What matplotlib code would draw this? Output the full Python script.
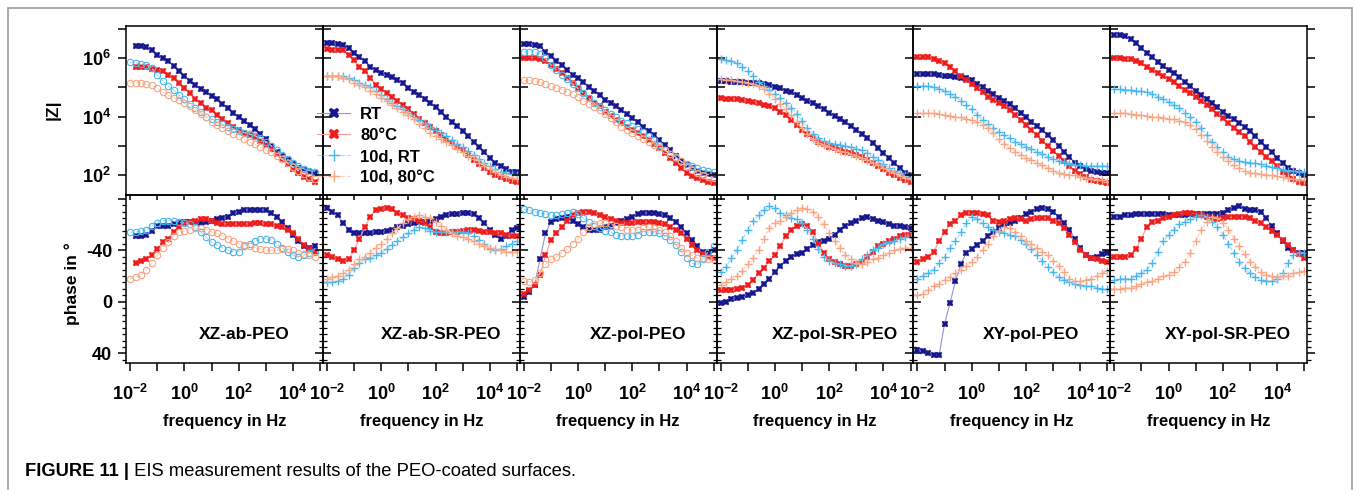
import numpy as np
import matplotlib
matplotlib.use("Agg")
import matplotlib.pyplot as plt
from matplotlib.lines import Line2D
from matplotlib.patches import Rectangle
from matplotlib.ticker import FixedLocator, FuncFormatter, MultipleLocator, NullLocator
from matplotlib import font_manager

# log10 of the measuring frequency in Hz
log_freq = [-2.0, -1.8, -1.6, -1.4, -1.2, -1.0, -0.8, -0.6, -0.4, -0.2,
            0.0, 0.2, 0.4, 0.6, 0.8, 1.0, 1.2, 1.4, 1.6, 1.8,
            2.0, 2.2, 2.4, 2.6, 2.8, 3.0, 3.2, 3.4, 3.6, 3.8,
            4.0, 4.2, 4.4, 4.6, 4.8, 5.0]

panel_names = ["XZ-ab-PEO", "XZ-ab-SR-PEO", "XZ-pol-PEO",
               "XZ-pol-SR-PEO", "XY-pol-PEO", "XY-pol-SR-PEO"]
series_names = ["RT", "80°C", "10d, RT", "10d, 80°C"]

# ---- XZ-ab-PEO : log10 |Z| and phase ----
z_xz_ab_rt = [None, 6.41, 6.41, 6.38, 6.29, 6.12, 6.00, 5.91, 5.74, 5.58, 5.40, 5.23, 5.09, 4.96, 4.84, 4.72, 4.59, 4.44, 4.28, 4.12, 4.00, 3.85, 3.70, 3.57, 3.41, 3.22, 3.00, 2.80, 2.65, 2.51, 2.37, 2.25, 2.17, 2.11, 2.06, None]
z_xz_ab_80 = [None, 5.72, 5.72, 5.70, 5.64, 5.60, 5.55, 5.43, 5.32, 5.15, 4.97, 4.80, 4.60, 4.46, 4.31, 4.21, 4.06, 3.91, 3.77, 3.66, 3.54, 3.45, 3.37, 3.29, 3.18, 3.03, 2.88, 2.71, 2.54, 2.38, 2.21, 2.06, 1.94, 1.85, 1.77, None]
z_xz_ab_10rt = [5.86, 5.84, 5.82, 5.78, 5.66, 5.43, 5.23, 5.05, 4.92, 4.75, 4.60, 4.44, 4.29, 4.15, 4.00, 3.91, 3.83, 3.74, 3.66, 3.58, 3.51, 3.45, 3.40, 3.34, 3.26, 3.14, 3.00, 2.84, 2.69, 2.54, 2.40, 2.29, 2.21, 2.15, 2.11, None]
z_xz_ab_1080 = [5.17, 5.17, 5.17, 5.11, 5.07, 4.97, 4.86, 4.75, 4.65, 4.57, 4.46, 4.35, 4.21, 4.09, 3.97, 3.83, 3.72, 3.60, 3.49, 3.40, 3.32, 3.22, 3.14, 3.05, 2.95, 2.86, 2.77, 2.65, 2.54, 2.40, 2.26, 2.15, 2.04, 1.94, 1.85, None]
ph_xz_ab_rt = [None, -51, -51, -52, -55, -59, -59, -59, -60, -61, -62, -62, -62, -61, -62, -63, -64, -65, -66, -69, -70, -71, -71, -71, -71, -71, -69, -66, -62, -57, -52, -47, -43, -42, -43, None]
ph_xz_ab_80 = [None, -30, -32, -33, -36, -41, -46, -49, -54, -58, -61, -62, -63, -64, -64, -63, -61, -60, -60, -60, -60, -60, -60, -61, -61, -60, -60, -59, -58, -56, -53, -49, -44, -41, -39, None]
ph_xz_ab_10rt = [-54, -54, -55, -56, -59, -61, -63, -63, -63, -62, -61, -60, -58, -54, -50, -46, -44, -42, -40, -39, -39, -43, -45, -47, -49, -49, -48, -45, -42, -39, -36, -35, -36, -38, -39, None]
ph_xz_ab_1080 = [-18, -19, -21, -25, -30, -36, -42, -46, -51, -54, -55, -56, -57, -57, -56, -54, -53, -51, -49, -47, -45, -44, -43, -42, -41, -40, -40, -40, -41, -41, -40, -38, -37, -36, -35, None]

# ---- XZ-ab-SR-PEO ----
z_xz_absr_rt = [6.52, 6.51, 6.50, 6.45, 6.35, 6.18, 6.04, 5.92, 5.72, 5.60, 5.51, 5.43, 5.35, 5.26, 5.15, 4.97, 4.86, 4.75, 4.61, 4.46, 4.32, 4.17, 4.00, 3.83, 3.68, 3.49, 3.32, 3.14, 2.97, 2.77, 2.59, 2.42, 2.29, 2.19, 2.11, 2.09]
z_xz_absr_80 = [6.31, 6.30, 6.29, 6.27, 6.12, 5.95, 5.72, 5.55, 5.32, 5.09, 4.94, 4.80, 4.66, 4.54, 4.40, 4.25, 4.09, 3.93, 3.77, 3.63, 3.51, 3.37, 3.24, 3.11, 2.97, 2.84, 2.69, 2.51, 2.37, 2.23, 2.11, 2.00, 1.92, 1.85, 1.79, 1.76]
z_xz_absr_10rt = [5.40, 5.40, 5.39, 5.38, 5.33, 5.26, 5.17, 5.09, 5.00, 4.89, 4.75, 4.62, 4.48, 4.37, 4.25, 4.14, 4.00, 3.89, 3.77, 3.66, 3.54, 3.43, 3.32, 3.20, 3.06, 2.95, 2.82, 2.69, 2.54, 2.40, 2.29, 2.19, 2.11, 2.06, 2.02, 2.00]
z_xz_absr_1080 = [5.38, 5.38, 5.38, 5.34, 5.28, 5.17, 5.09, 5.01, 4.89, 4.78, 4.65, 4.54, 4.40, 4.29, 4.17, 4.06, 3.91, 3.75, 3.60, 3.45, 3.34, 3.22, 3.12, 3.01, 2.88, 2.77, 2.66, 2.55, 2.42, 2.31, 2.19, 2.09, 2.00, 1.94, 1.90, 1.87]
ph_xz_absr_rt = [-73, -70, -67, -61, -56, -53, -53, -53, -53, -54, -54, -55, -56, -58, -59, -60, -61, -62, -62, -63, -64, -66, -67, -68, -68, -69, -69, -68, -65, -61, -56, -52, -49, -51, -56, -57]
ph_xz_absr_80 = [-36, -35, -33, -32, -33, -40, -49, -58, -66, -71, -72, -73, -72, -69, -67, -65, -64, -63, -61, -58, -54, -53, -53, -54, -54, -55, -56, -56, -55, -54, -54, -53, -53, -52, -51, -51]
ph_xz_absr_10rt = [-15, -15, -16, -18, -21, -26, -30, -33, -34, -36, -38, -41, -44, -47, -50, -53, -56, -58, -57, -55, -54, -54, -54, -54, -54, -54, -53, -51, -48, -45, -41, -40, -41, -43, -45, -47]
ph_xz_absr_1080 = [-18, -19, -20, -22, -25, -29, -33, -35, -38, -42, -45, -49, -53, -57, -61, -64, -66, -67, -66, -65, -62, -59, -56, -53, -51, -50, -49, -47, -45, -43, -42, -41, -40, -39, -39, -39]

# ---- XZ-pol-PEO ----
z_xz_pol_rt = [6.50, 6.50, 6.47, 6.41, 6.23, 6.08, 5.92, 5.78, 5.60, 5.43, 5.32, 5.18, 5.03, 4.89, 4.75, 4.57, 4.46, 4.35, 4.21, 4.08, 3.95, 3.81, 3.66, 3.52, 3.37, 3.20, 3.03, 2.84, 2.65, 2.49, 2.34, 2.23, 2.15, 2.08, 2.03, 2.00]
z_xz_pol_80 = [6.00, 6.00, 6.00, 5.98, 5.92, 5.78, 5.63, 5.49, 5.32, 5.15, 4.97, 4.80, 4.63, 4.48, 4.35, 4.17, 4.02, 3.89, 3.77, 3.66, 3.54, 3.43, 3.32, 3.20, 3.06, 2.92, 2.74, 2.57, 2.40, 2.23, 2.08, 1.97, 1.88, 1.81, 1.75, 1.71]
z_xz_pol_10rt = [6.23, 6.23, 6.21, 6.14, 6.00, 5.78, 5.60, 5.43, 5.28, 5.12, 4.97, 4.80, 4.63, 4.46, 4.32, 4.21, 4.08, 3.97, 3.86, 3.77, 3.68, 3.58, 3.46, 3.34, 3.20, 3.03, 2.86, 2.71, 2.57, 2.46, 2.37, 2.29, 2.22, 2.17, 2.14, 2.11]
z_xz_pol_1080 = [5.24, 5.24, 5.23, 5.19, 5.12, 5.05, 4.97, 4.92, 4.85, 4.77, 4.67, 4.55, 4.44, 4.32, 4.21, 4.08, 3.95, 3.80, 3.66, 3.54, 3.43, 3.32, 3.22, 3.13, 3.04, 2.95, 2.84, 2.72, 2.61, 2.46, 2.31, 2.17, 2.06, 1.98, 1.92, 1.89]
ph_xz_pol_rt = [-4, -8, -13, -33, -53, -62, -64, -65, -66, -63, -60, -58, -56, -56, -56, -58, -59, -61, -63, -64, -66, -68, -69, -69, -69, -68, -67, -65, -62, -58, -53, -48, -43, -39, -38, -40]
ph_xz_pol_80 = [-6, -9, -13, -21, -36, -48, -53, -58, -63, -67, -69, -70, -70, -69, -67, -66, -64, -63, -61, -61, -61, -62, -62, -62, -62, -61, -60, -58, -56, -53, -49, -44, -40, -37, -35, -34]
ph_xz_pol_10rt = [-72, -71, -70, -69, -68, -67, -67, -68, -69, -70, -68, -65, -62, -59, -57, -55, -54, -52, -51, -51, -51, -52, -54, -54, -54, -53, -51, -48, -44, -39, -34, -30, -29, -33, -39, -43]
ph_xz_pol_1080 = [-16, -15, -17, -22, -29, -33, -35, -38, -41, -45, -49, -54, -58, -60, -61, -61, -60, -59, -58, -56, -56, -56, -57, -58, -57, -56, -54, -51, -47, -42, -38, -36, -34, -34, -33, -33]

# ---- XZ-pol-SR-PEO ----
z_xz_polsr_rt = [5.23, 5.22, 5.20, 5.19, 5.18, 5.17, 5.16, 5.15, 5.12, 5.09, 5.03, 4.97, 4.89, 4.83, 4.75, 4.65, 4.55, 4.46, 4.35, 4.25, 4.14, 4.03, 3.92, 3.81, 3.68, 3.54, 3.41, 3.26, 3.11, 2.92, 2.74, 2.57, 2.40, 2.23, 2.08, 1.98]
z_xz_polsr_80 = [4.63, 4.62, 4.61, 4.60, 4.57, 4.54, 4.49, 4.46, 4.40, 4.35, 4.29, 4.17, 4.04, 3.89, 3.72, 3.54, 3.39, 3.26, 3.14, 3.05, 2.97, 2.91, 2.86, 2.80, 2.74, 2.69, 2.61, 2.51, 2.42, 2.31, 2.19, 2.08, 1.99, 1.90, 1.81, 1.74]
z_xz_polsr_10rt = [5.97, 5.95, 5.90, 5.83, 5.72, 5.55, 5.40, 5.20, 5.05, 4.92, 4.78, 4.63, 4.46, 4.29, 4.09, 3.86, 3.60, 3.41, 3.26, 3.17, 3.11, 3.06, 3.03, 3.00, 2.95, 2.90, 2.84, 2.74, 2.63, 2.51, 2.38, 2.25, 2.14, 2.06, 1.99, 1.94]
z_xz_polsr_1080 = [5.28, 5.26, 5.24, 5.22, 5.19, 5.17, 5.12, 5.05, 4.94, 4.78, 4.62, 4.44, 4.25, 4.06, 3.83, 3.60, 3.41, 3.22, 3.11, 3.02, 2.95, 2.88, 2.82, 2.77, 2.71, 2.65, 2.58, 2.51, 2.42, 2.33, 2.23, 2.14, 2.05, 1.97, 1.90, 1.85]
ph_xz_polsr_rt = [1, 0, -2, -3, -4, -5, -7, -10, -14, -18, -23, -28, -32, -35, -37, -38, -41, -44, -46, -47, -49, -52, -56, -59, -61, -63, -65, -66, -64, -63, -62, -60, -59, -59, -58, -57]
ph_xz_polsr_80 = [-9, -9, -9, -10, -11, -13, -17, -22, -26, -32, -36, -43, -51, -56, -59, -60, -59, -54, -45, -38, -33, -31, -29, -28, -28, -29, -31, -35, -39, -43, -45, -47, -49, -51, -52, -52]
ph_xz_polsr_10rt = [-23, -27, -34, -40, -48, -56, -63, -67, -71, -74, -73, -69, -67, -65, -64, -61, -56, -49, -41, -35, -32, -30, -29, -28, -28, -29, -33, -36, -40, -42, -45, -46, -47, -49, -50, -50]
ph_xz_polsr_1080 = [-13, -15, -18, -20, -24, -29, -34, -40, -49, -57, -61, -63, -66, -69, -71, -73, -72, -70, -66, -60, -53, -47, -42, -36, -33, -30, -29, -31, -33, -34, -36, -38, -40, -41, -42, -42]

# ---- XY-pol-PEO ----
z_xy_pol_rt = [5.47, 5.47, 5.47, 5.46, 5.43, 5.40, 5.38, 5.35, 5.33, 5.31, 5.24, 5.12, 5.01, 4.89, 4.78, 4.65, 4.54, 4.43, 4.29, 4.14, 3.98, 3.83, 3.68, 3.54, 3.37, 3.20, 3.00, 2.80, 2.61, 2.42, 2.29, 2.19, 2.14, 2.10, 2.07, 2.06]
z_xy_pol_80 = [6.04, 6.04, 6.04, 5.99, 5.92, 5.83, 5.70, 5.55, 5.38, 5.24, 5.11, 4.97, 4.83, 4.69, 4.57, 4.46, 4.35, 4.21, 4.06, 3.89, 3.72, 3.54, 3.37, 3.18, 3.00, 2.82, 2.65, 2.48, 2.31, 2.15, 2.02, 1.92, 1.84, 1.78, 1.74, 1.71]
z_xy_pol_10rt = [5.05, 5.05, 5.04, 5.01, 4.95, 4.88, 4.78, 4.67, 4.55, 4.40, 4.25, 4.06, 3.89, 3.74, 3.60, 3.48, 3.36, 3.25, 3.14, 3.06, 2.97, 2.88, 2.79, 2.71, 2.63, 2.56, 2.49, 2.43, 2.39, 2.35, 2.33, 2.32, 2.31, 2.31, 2.31, 2.31]
z_xy_pol_1080 = [4.12, 4.12, 4.12, 4.11, 4.08, 4.06, 4.03, 4.00, 3.97, 3.93, 3.89, 3.82, 3.72, 3.60, 3.43, 3.22, 3.06, 2.93, 2.80, 2.69, 2.59, 2.51, 2.42, 2.33, 2.23, 2.15, 2.08, 2.04, 2.00, 1.98, 1.94, 1.91, 1.87, 1.84, 1.81, 1.77]
ph_xy_pol_rt = [37, 38, 40, 41, 41, 17, 1, -16, -29, -38, -41, -44, -47, -51, -54, -57, -60, -61, -63, -65, -68, -70, -72, -73, -72, -70, -66, -61, -56, -49, -42, -36, -34, -35, -37, -38]
ph_xy_pol_80 = [-31, -33, -35, -39, -47, -54, -60, -63, -67, -69, -69, -69, -68, -67, -63, -62, -63, -64, -65, -64, -63, -64, -65, -65, -65, -63, -61, -57, -52, -46, -40, -36, -34, -33, -32, -31]
ph_xy_pol_10rt = [-18, -20, -22, -25, -30, -35, -42, -47, -54, -61, -66, -64, -61, -58, -56, -54, -53, -52, -51, -48, -45, -41, -36, -32, -27, -23, -19, -17, -15, -14, -13, -12, -12, -11, -10, -10]
ph_xy_pol_1080 = [-5, -6, -9, -12, -14, -17, -19, -22, -25, -28, -31, -35, -40, -45, -51, -55, -58, -57, -54, -51, -47, -45, -42, -39, -36, -32, -28, -23, -18, -16, -16, -17, -18, -20, -22, -24]

# ---- XY-pol-SR-PEO ----
z_xy_polsr_rt = [6.81, 6.79, 6.75, 6.66, 6.52, 6.35, 6.18, 6.04, 5.89, 5.74, 5.60, 5.49, 5.35, 5.20, 5.05, 4.89, 4.75, 4.60, 4.46, 4.32, 4.17, 4.02, 3.91, 3.77, 3.63, 3.49, 3.32, 3.14, 2.95, 2.77, 2.57, 2.40, 2.25, 2.14, 2.06, 2.00]
z_xy_polsr_80 = [6.00, 6.00, 5.99, 5.97, 5.90, 5.83, 5.72, 5.60, 5.49, 5.38, 5.30, 5.18, 5.05, 4.92, 4.80, 4.66, 4.54, 4.40, 4.25, 4.09, 3.95, 3.77, 3.62, 3.46, 3.32, 3.14, 2.97, 2.80, 2.63, 2.46, 2.29, 2.11, 1.98, 1.86, 1.77, 1.71]
z_xy_polsr_10rt = [4.94, 4.94, 4.93, 4.92, 4.89, 4.87, 4.83, 4.77, 4.69, 4.60, 4.51, 4.40, 4.29, 4.14, 3.98, 3.80, 3.60, 3.37, 3.14, 2.95, 2.77, 2.63, 2.54, 2.48, 2.45, 2.42, 2.40, 2.37, 2.32, 2.27, 2.23, 2.18, 2.15, 2.13, 2.11, 2.10]
z_xy_polsr_1080 = [4.12, 4.12, 4.11, 4.09, 4.07, 4.05, 4.03, 4.00, 3.98, 3.96, 3.93, 3.91, 3.86, 3.81, 3.72, 3.57, 3.37, 3.18, 2.97, 2.77, 2.61, 2.46, 2.33, 2.23, 2.14, 2.08, 2.05, 2.02, 2.00, 1.98, 1.95, 1.92, 1.89, 1.85, 1.83, 1.81]
ph_xy_polsr_rt = [-66, -66, -67, -67, -68, -68, -68, -68, -68, -68, -67, -67, -67, -67, -68, -68, -68, -68, -68, -68, -69, -71, -73, -74, -72, -71, -71, -70, -65, -59, -53, -47, -42, -40, -38, -38]
ph_xy_polsr_80 = [-35, -35, -35, -36, -41, -49, -58, -62, -63, -65, -66, -67, -68, -69, -69, -68, -67, -66, -65, -64, -65, -66, -66, -66, -66, -65, -63, -61, -58, -55, -52, -48, -44, -40, -37, -34]
ph_xy_polsr_10rt = [-17, -18, -18, -18, -20, -22, -25, -30, -39, -47, -52, -56, -60, -62, -64, -66, -67, -66, -62, -58, -52, -45, -38, -31, -26, -22, -19, -17, -16, -16, -18, -22, -30, -36, -38, -38]
ph_xy_polsr_1080 = [-10, -10, -11, -11, -12, -14, -15, -16, -18, -20, -21, -23, -27, -31, -38, -47, -56, -62, -66, -65, -61, -56, -49, -43, -37, -31, -27, -23, -21, -20, -19, -20, -20, -22, -23, -24]

magnitudes = [
    [z_xz_ab_rt, z_xz_ab_80, z_xz_ab_10rt, z_xz_ab_1080],
    [z_xz_absr_rt, z_xz_absr_80, z_xz_absr_10rt, z_xz_absr_1080],
    [z_xz_pol_rt, z_xz_pol_80, z_xz_pol_10rt, z_xz_pol_1080],
    [z_xz_polsr_rt, z_xz_polsr_80, z_xz_polsr_10rt, z_xz_polsr_1080],
    [z_xy_pol_rt, z_xy_pol_80, z_xy_pol_10rt, z_xy_pol_1080],
    [z_xy_polsr_rt, z_xy_polsr_80, z_xy_polsr_10rt, z_xy_polsr_1080],
]
phases = [
    [ph_xz_ab_rt, ph_xz_ab_80, ph_xz_ab_10rt, ph_xz_ab_1080],
    [ph_xz_absr_rt, ph_xz_absr_80, ph_xz_absr_10rt, ph_xz_absr_1080],
    [ph_xz_pol_rt, ph_xz_pol_80, ph_xz_pol_10rt, ph_xz_pol_1080],
    [ph_xz_polsr_rt, ph_xz_polsr_80, ph_xz_polsr_10rt, ph_xz_polsr_1080],
    [ph_xy_pol_rt, ph_xy_pol_80, ph_xy_pol_10rt, ph_xy_pol_1080],
    [ph_xy_polsr_rt, ph_xy_polsr_80, ph_xy_polsr_10rt, ph_xy_polsr_1080],
]
# the aged samples of two panels were drawn with open circles
aged_marker = ['o', '+', 'o', '+', '+', '+']

# ---- styling ----
marker_col = ['#16168f', '#ef1c1c', '#48b6ee', '#f7a582']
line_col = ['#9494cc', '#f59c9c', '#a8daf6', '#fbd3c2']
line_sty = ['-', '-', '--', '--']

plt.rcParams['font.family'] = 'Liberation Sans'
plt.rcParams['font.weight'] = 'bold'
plt.rcParams['font.size'] = 12
plt.rcParams['axes.unicode_minus'] = False
plt.rcParams['mathtext.fontset'] = 'custom'
plt.rcParams['mathtext.rm'] = 'Liberation Sans:bold'
plt.rcParams['mathtext.it'] = 'Liberation Sans:bold'
plt.rcParams['mathtext.bf'] = 'Liberation Sans:bold'
plt.rcParams['mathtext.default'] = 'rm'

available = {f.name for f in font_manager.fontManager.ttflist}
cap_family = 'Liberation Sans Narrow' if 'Liberation Sans Narrow' in available else 'Liberation Sans'

W_PX, H_PX = 1356, 490
fig = plt.figure(figsize=(W_PX / 100, H_PX / 100), dpi=100)

x_left, x_right = 126, 1307
y_top, y_mid, y_bot = 26, 195, 363
col_w = (x_right - x_left) / 6.0

freq = 10.0 ** np.array(log_freq)


def pow10(v, pos):
    e = int(round(np.log10(v)))
    return r'$10^{%d}$' % e


def sym(marker, i):
    if i < 2:
        return dict(marker='X', ms=4.4, mfc=marker_col[i], mec=marker_col[i], mew=0.3)
    if marker == 'o':
        return dict(marker='o', ms=4.6, mfc='none', mec=marker_col[i], mew=0.8)
    return dict(marker='+', ms=5.5, mec=marker_col[i], mew=1.0)


for k in range(6):
    x0 = (x_left + k * col_w) / W_PX
    w = col_w / W_PX
    ax_z = fig.add_axes([x0, 1 - y_mid / H_PX, w, (y_mid - y_top) / H_PX])
    ax_p = fig.add_axes([x0, 1 - y_bot / H_PX, w, (y_bot - y_mid) / H_PX])

    for i in range(4):
        zz = 10.0 ** np.array(magnitudes[k][i], dtype=float)
        pp = np.array(phases[k][i], dtype=float)
        st = sym(aged_marker[k], i)
        ax_z.plot(freq, zz, color=line_col[i], lw=0.8, ls=line_sty[i], **st)
        ax_p.plot(freq, pp, color=line_col[i], lw=0.8, ls=line_sty[i], **st)

    for ax in (ax_z, ax_p):
        ax.set_facecolor('none')
        ax.set_xscale('log')
        ax.set_xlim(10 ** -2.15, 10 ** 5.1)
        ax.xaxis.set_major_locator(FixedLocator([10.0 ** e for e in range(-2, 6)]))
        ax.xaxis.set_minor_locator(NullLocator())
        for s in ax.spines.values():
            s.set_linewidth(1.1)

    # magnitude panel
    ax_z.set_yscale('log')
    ax_z.set_ylim(10 ** 1.31, 10 ** 7.11)
    ax_z.yaxis.set_major_locator(FixedLocator([10.0 ** e for e in range(2, 8)]))
    ax_z.yaxis.set_minor_locator(NullLocator())
    ax_z.yaxis.set_major_formatter(FuncFormatter(
        lambda v, p: pow10(v, p) if int(round(np.log10(v))) % 2 == 0 and v < 1e7 else ''))
    ax_z.tick_params(axis='y', which='major', direction='out', length=6, width=1.1,
                     left=True, right=True, labelleft=(k == 0), pad=5, labelsize=13)
    ax_z.tick_params(axis='x', which='major', direction='out', length=3.5, width=1.1,
                     bottom=True, top=False, labelbottom=False)

    # phase panel
    ax_p.set_ylim(47.4, -82.8)
    ax_p.yaxis.set_major_locator(FixedLocator([-80, -40, 0, 40]))
    ax_p.yaxis.set_minor_locator(MultipleLocator(5))
    ax_p.yaxis.set_major_formatter(FuncFormatter(
        lambda v, p: '%d' % v if v > -60 else ''))
    ax_p.tick_params(axis='y', which='major', direction='out', length=6, width=1.1,
                     left=True, right=True, labelleft=(k == 0), pad=4, labelsize=13)
    ax_p.tick_params(axis='y', which='minor', direction='out', length=3, width=0.9,
                     left=True, right=True)
    ax_p.xaxis.set_major_formatter(FuncFormatter(
        lambda v, p: pow10(v, p) if int(round(np.log10(v))) % 2 == 0 else ''))
    ax_p.tick_params(axis='x', which='major', direction='out', length=6, width=1.1,
                     bottom=True, top=False, pad=9, labelsize=13)

    ax_p.text(0.6, 0.167, panel_names[k], transform=ax_p.transAxes,
              ha='center', va='center', fontsize=12.5, fontweight='bold')
    fig.text(x0 + w / 2, 1 - 421 / H_PX, 'frequency in Hz', ha='center', va='center',
             fontsize=12, fontweight='bold')

fig.text(53 / W_PX, 1 - 110 / H_PX, '|Z|', rotation=90, ha='center', va='center',
         fontsize=12.5, fontweight='bold')
fig.text(72 / W_PX, 1 - 284 / H_PX, 'phase in °', rotation=90, ha='center', va='center',
         fontsize=12.5, fontweight='bold')

# legend of the measuring conditions
handles = []
for i in range(4):
    st = sym('+', i)
    handles.append(Line2D([], [], color=line_col[i], lw=0.8, ls=line_sty[i], **st))
fig.legend(handles, series_names, loc='upper left',
           bbox_to_anchor=(317 / W_PX, 1 - 107 / H_PX), frameon=False,
           handlelength=2.0, handletextpad=0.6, labelspacing=0.36,
           borderpad=0, borderaxespad=0, markerscale=1.7,
           prop={'weight': 'bold', 'size': 12})

# outer frame and caption
fig.add_artist(Rectangle((8 / W_PX, -0.05), (1352 - 8) / W_PX, 1 - 8 / H_PX + 0.05,
                         transform=fig.transFigure, fill=False, ec='#9c9c9c', lw=1.2))
t1 = fig.text(25 / W_PX, 1 - 471 / H_PX, 'FIGURE 11 |', family=cap_family,
              fontweight='bold', fontsize=13.2, va='center', ha='left')
fig.canvas.draw()
bb = t1.get_window_extent()
fig.text(bb.x1 / W_PX, 1 - 471 / H_PX, ' EIS measurement results of the PEO-coated surfaces.',
         family=cap_family, fontweight='normal', fontsize=13.2, va='center', ha='left')

fig.savefig('out.png', dpi=100, facecolor='white')
